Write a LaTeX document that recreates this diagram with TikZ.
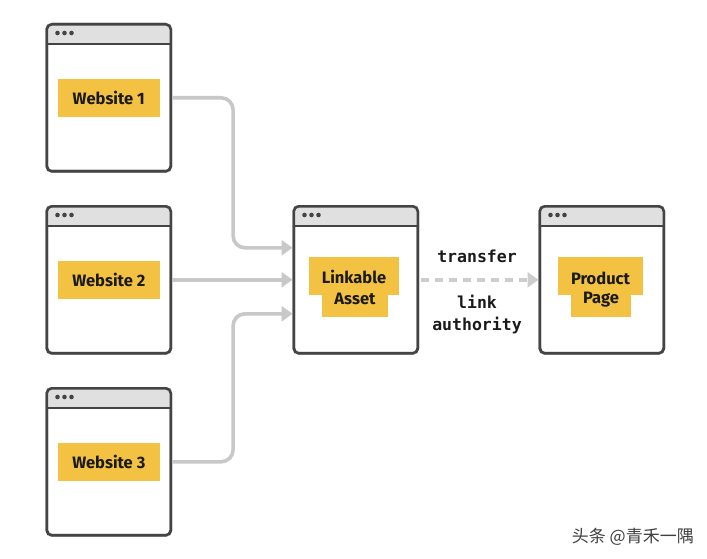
\documentclass[tikz,border=0pt]{standalone}
\usepackage{fontspec}
\setmainfont{Fira Sans}
\newfontfamily\monof{DejaVu Sans Mono}
\newfontfamily\cjk{Noto Sans CJK SC}
\usetikzlibrary{arrows.meta,calc}
\definecolor{frame}{HTML}{444444}
\definecolor{barc}{HTML}{E0E0E0}
\definecolor{yel}{HTML}{F4C242}
\definecolor{conc}{HTML}{C8C8C8}
\definecolor{txt}{HTML}{1A1A1A}
\tikzset{
  win/.style={draw=frame, line width=2.6pt, rounded corners=5pt, minimum width=124pt, minimum height=147pt, anchor=north west, inner sep=0pt},
  lab/.style={fill=yel, text=txt, font=\bfseries\fontsize{16.5}{18}\selectfont, inner sep=0pt},
  labtxt/.style={text=txt, font=\bfseries\fontsize{16.5}{18}\selectfont, inner sep=0pt},
  conn/.style={draw=conc, line width=3.6pt, rounded corners=12pt, -{Triangle[length=11pt,width=15pt]}},
  dconn/.style={draw=conc!90, line width=3.6pt, dash pattern=on 8pt off 6pt, -{Triangle[length=11pt,width=15pt]}},
  mono/.style={font=\monof\bfseries\fontsize{16.5}{18}\selectfont, text=txt, inner sep=0pt},
}
\newcommand\browserwin[3]{%
  \node[win, fill=white] (#1) at (#2,#3) {};
  \begin{scope}
    \clip[rounded corners=5pt] (#1.north west) rectangle (#1.south east);
    \fill[barc] (#1.north west) rectangle ([yshift=-21pt]#1.north east);
    \fill[barc] ([yshift=4pt]#1.south west) rectangle (#1.south east);
  \end{scope}
  \draw[frame, line width=2.6pt] ([yshift=-21pt]#1.north west) -- ([yshift=-21pt]#1.north east);
  \foreach \k in {0,1,2} {\fill[frame] ([xshift={12pt+\k*7pt}, yshift=-10pt]#1.north west) circle (2.3pt);}
  \node[win] at (#2,#3) {};
}
\begin{document}
\begin{tikzpicture}[x=1pt,y=-1pt]
\useasboundingbox[fill=white] (0,0) rectangle (707,559);
\browserwin{w1}{45.5}{23}
\browserwin{w2}{45.5}{205}
\browserwin{w3}{45.5}{387}
\browserwin{la}{292.5}{205}
\browserwin{pp}{538.5}{205}
% labels
\node[lab, minimum width=102pt, minimum height=38pt] (l1) at (w1.center) {Website 1};
\node[lab, minimum width=102pt, minimum height=38pt] (l2) at (w2.center) {Website 2};
\node[lab, minimum width=102pt, minimum height=38pt] (l3) at (w3.center) {Website 3};
\node[lab, minimum width=90pt, minimum height=38pt] (la1) at (354,276) {};
\node[lab, minimum width=66pt, minimum height=22.5pt] (la2) at (355,306) {};
\node[labtxt] (la1t) at (354,277) {Linkable};
\node[labtxt] (la2t) at (355,299) {Asset};
\node[lab, minimum width=85pt, minimum height=38pt] (pp1) at (600.5,276) {};
\node[lab, minimum width=60pt, minimum height=22.5pt] (pp2) at (601,306) {};
\node[labtxt] (pp1t) at (600.5,278) {Product};
\node[labtxt] (pp2t) at (601,300) {Page};
% connectors
\draw[conn] (w1.east) -- ++(61,0) |- ([yshift=32pt]la.west);
\draw[conn] (w2.east) -- (la.west);
\draw[conn] (w3.east) -- ++(61,0) |- ([yshift=-34pt]la.west);
\draw[dconn] ([xshift=2pt]la.east) -- (pp.west);
\node[mono] (t1) at (477,256) {transfer};
\node[mono] (t2) at (477,302) {link};
\node[mono] (t3) at (477,325) {authority};
\node[font=\cjk\fontsize{17}{19}\selectfont, text=black!75, anchor=east, inner sep=0pt] (wm) at (694,537) {头条 @青禾一隅};
\end{tikzpicture}
\end{document}
